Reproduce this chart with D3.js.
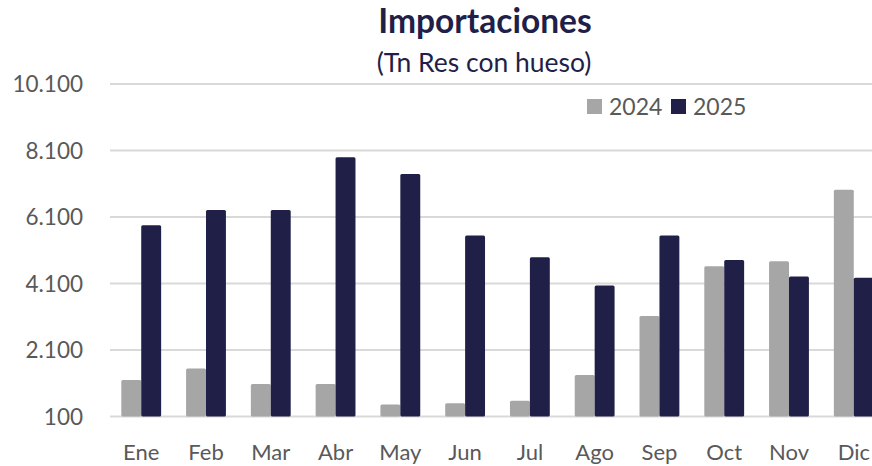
<!DOCTYPE html>
<html>
<head>
<meta charset="utf-8">
<script src="https://cdn.jsdelivr.net/npm/d3@7"></script>
<style>
  html, body { margin: 0; padding: 0; background: #ffffff; }
  svg { display: block; font-family: Lato, "Open Sans", sans-serif; }
</style>
</head>
<body>
<svg id="chart" width="872" height="466"></svg>
<script>
const months = ["Ene","Feb","Mar","Abr","May","Jun","Jul","Ago","Sep","Oct","Nov","Dic"];
const series = ["2024","2025"];
const values2024 = [1200, 1540, 1080, 1080, 460, 500, 570, 1350, 3120, 4620, 4770, 6920];
const values2025 = [5850, 6310, 6310, 7900, 7390, 5540, 4890, 4040, 5540, 4810, 4310, 4270];
const yTicks = [100, 2100, 4100, 6100, 8100, 10100];
const colors = ["#a6a6a6", "#201f47"];

const svg = d3.select("#chart");
const W = 872, H = 466;
const margin = { left: 109, right: -14, top: 84, bottom: 49 };

const locale = d3.formatLocale({ decimal: ",", thousands: ".", grouping: [3], currency: ["", ""] });
const fmt = locale.format(",d");

const x = d3.scaleBand().domain(months).range([margin.left, W - margin.right]).paddingInner(0.385).paddingOuter(0.19);
const xs = d3.scaleBand().domain(series).range([0, x.bandwidth()]);
const y = d3.scaleLinear().domain([100, 10100]).range([H - margin.bottom - 0.5, margin.top]);

// gridlines
svg.append("g")
  .selectAll("line").data(yTicks).join("line")
  .attr("x1", 110).attr("x2", W)
  .attr("y1", d => y(d)).attr("y2", d => y(d))
  .attr("stroke", "#d9d9d9").attr("stroke-width", 2);

// y axis labels
const yAxis = d3.axisLeft(y).tickValues(yTicks).tickFormat(fmt).tickSize(0).tickPadding(0);
const gy = svg.append("g").attr("transform", "translate(83,0)").call(yAxis);
gy.select(".domain").remove();
gy.selectAll("text").attr("font-size", 22.5).attr("fill", "#595959").attr("font-family", "Lato, sans-serif").attr("dy", "0.34em");

// bars
const data = months.map((m, i) => ({ m, vals: [values2024[i], values2025[i]] }));
const groups = svg.append("g").selectAll("g").data(data).join("g")
  .attr("transform", d => `translate(${x(d.m)},0)`);
groups.selectAll("rect").data(d => d.vals.map((v, j) => ({ s: series[j], v, j })))
  .join("rect")
  .attr("x", d => xs(d.s))
  .attr("width", xs.bandwidth())
  .attr("y", d => y(d.v))
  .attr("height", d => y(100) - y(d.v))
  .attr("fill", d => colors[d.j])
  .attr("rx", 1.5);

// x axis labels
const xAxis = d3.axisBottom(x).tickSize(0).tickPadding(0);
const gx = svg.append("g").attr("transform", "translate(0,444)").call(xAxis);
gx.select(".domain").remove();
gx.selectAll("text").attr("font-size", 22).attr("fill", "#595959").attr("font-family", "Lato, sans-serif").attr("dy", "0.71em");

// title
svg.append("text").attr("x", 485).attr("y", 33).attr("text-anchor", "middle")
  .attr("font-size", 33.5).attr("font-weight", "bold").attr("fill", "#1f1f4a")
  .text("Importaciones");
svg.append("text").attr("x", 484).attr("y", 72).attr("text-anchor", "middle")
  .attr("font-size", 26.5).attr("fill", "#1f1f4a")
  .text("(Tn Res con hueso)");

// legend
const legend = svg.append("g").attr("transform", "translate(587,99)");
const li = legend.selectAll("g").data(series).join("g")
  .attr("transform", (d, i) => `translate(${i * 84},0)`);
li.append("rect").attr("width", 15).attr("height", 15).attr("fill", (d, i) => colors[i]);
li.append("text").attr("x", 22).attr("y", 15.5).attr("font-size", 23).attr("fill", "#595959").text(d => d);
</script>
</body>
</html>
